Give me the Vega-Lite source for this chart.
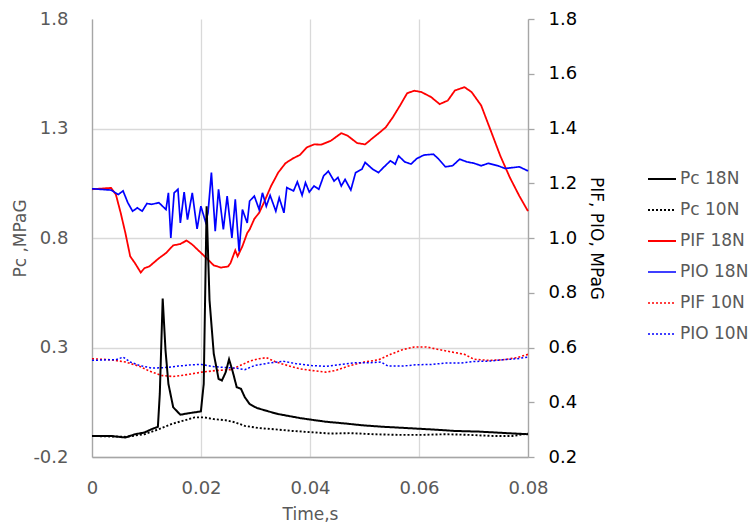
{
  "$schema": "https://vega.github.io/schema/vega-lite/v6.json",
  "width": 436,
  "height": 438,
  "autosize": {"type": "none"},
  "padding": {"left": 92, "top": 19, "right": 223, "bottom": 68},
  "config": {
    "font": "DejaVu Sans",
    "view": {"stroke": null}
  },
  "datasets": {
    "L": [
      {"s":"Pc 18N","t":0,"v":-0.104},{"s":"Pc 18N","t":0.0035,"v":-0.104},{"s":"Pc 18N","t":0.00613,"v":-0.111},{"s":"Pc 18N","t":0.00789,"v":-0.096},{"s":"Pc 18N","t":0.00964,"v":-0.088},{"s":"Pc 18N","t":0.01095,"v":-0.073},{"s":"Pc 18N","t":0.01209,"v":-0.062},{"s":"Pc 18N","t":0.01244,"v":0.088},{"s":"Pc 18N","t":0.01297,"v":0.524},{"s":"Pc 18N","t":0.01349,"v":0.287},{"s":"Pc 18N","t":0.01402,"v":0.134},{"s":"Pc 18N","t":0.0149,"v":0.027},{"s":"Pc 18N","t":0.01621,"v":-0.007},{"s":"Pc 18N","t":0.01752,"v":-0.001},{"s":"Pc 18N","t":0.01884,"v":0.004},{"s":"Pc 18N","t":0.01998,"v":0.008},{"s":"Pc 18N","t":0.0205,"v":0.134},{"s":"Pc 18N","t":0.02103,"v":0.945},{"s":"Pc 18N","t":0.02156,"v":0.517},{"s":"Pc 18N","t":0.02234,"v":0.272},{"s":"Pc 18N","t":0.02322,"v":0.157},{"s":"Pc 18N","t":0.02383,"v":0.149},{"s":"Pc 18N","t":0.02453,"v":0.187},{"s":"Pc 18N","t":0.02515,"v":0.246},{"s":"Pc 18N","t":0.02585,"v":0.187},{"s":"Pc 18N","t":0.02655,"v":0.119},{"s":"Pc 18N","t":0.02734,"v":0.111},{"s":"Pc 18N","t":0.02804,"v":0.073},{"s":"Pc 18N","t":0.02892,"v":0.042},{"s":"Pc 18N","t":0.03023,"v":0.024},{"s":"Pc 18N","t":0.03242,"v":0.008},{"s":"Pc 18N","t":0.03417,"v":-0.004},{"s":"Pc 18N","t":0.03593,"v":-0.012},{"s":"Pc 18N","t":0.03812,"v":-0.022},{"s":"Pc 18N","t":0.04031,"v":-0.03},{"s":"Pc 18N","t":0.04294,"v":-0.039},{"s":"Pc 18N","t":0.04644,"v":-0.047},{"s":"Pc 18N","t":0.04995,"v":-0.056},{"s":"Pc 18N","t":0.05345,"v":-0.062},{"s":"Pc 18N","t":0.05783,"v":-0.068},{"s":"Pc 18N","t":0.06221,"v":-0.074},{"s":"Pc 18N","t":0.06659,"v":-0.081},{"s":"Pc 18N","t":0.07098,"v":-0.084},{"s":"Pc 18N","t":0.07536,"v":-0.09},{"s":"Pc 18N","t":0.08,"v":-0.096},
      {"s":"Pc 10N","t":0,"v":-0.104},{"s":"Pc 10N","t":0.00613,"v":-0.108},{"s":"Pc 10N","t":0.00964,"v":-0.096},{"s":"Pc 10N","t":0.01227,"v":-0.073},{"s":"Pc 10N","t":0.0149,"v":-0.047},{"s":"Pc 10N","t":0.01709,"v":-0.032},{"s":"Pc 10N","t":0.01884,"v":-0.019},{"s":"Pc 10N","t":0.02059,"v":-0.019},{"s":"Pc 10N","t":0.02234,"v":-0.027},{"s":"Pc 10N","t":0.02453,"v":-0.032},{"s":"Pc 10N","t":0.02629,"v":-0.042},{"s":"Pc 10N","t":0.02804,"v":-0.058},{"s":"Pc 10N","t":0.03067,"v":-0.068},{"s":"Pc 10N","t":0.0333,"v":-0.073},{"s":"Pc 10N","t":0.0368,"v":-0.081},{"s":"Pc 10N","t":0.04031,"v":-0.087},{"s":"Pc 10N","t":0.04381,"v":-0.093},{"s":"Pc 10N","t":0.04732,"v":-0.091},{"s":"Pc 10N","t":0.0517,"v":-0.096},{"s":"Pc 10N","t":0.05608,"v":-0.099},{"s":"Pc 10N","t":0.06046,"v":-0.099},{"s":"Pc 10N","t":0.06484,"v":-0.096},{"s":"Pc 10N","t":0.06922,"v":-0.099},{"s":"Pc 10N","t":0.0736,"v":-0.104},{"s":"Pc 10N","t":0.07711,"v":-0.104},{"s":"Pc 10N","t":0.08,"v":-0.093}
    ],
    "R": [
      {"s":"PIF 18N","t":0,"v":1.178},{"s":"PIF 18N","t":0.0035,"v":1.183},{"s":"PIF 18N","t":0.00438,"v":1.159},{"s":"PIF 18N","t":0.00526,"v":1.092},{"s":"PIF 18N","t":0.00613,"v":1.018},{"s":"PIF 18N","t":0.00701,"v":0.933},{"s":"PIF 18N","t":0.00789,"v":0.908},{"s":"PIF 18N","t":0.00894,"v":0.874},{"s":"PIF 18N","t":0.00964,"v":0.89},{"s":"PIF 18N","t":0.01051,"v":0.896},{"s":"PIF 18N","t":0.01227,"v":0.926},{"s":"PIF 18N","t":0.01358,"v":0.945},{"s":"PIF 18N","t":0.0149,"v":0.973},{"s":"PIF 18N","t":0.01621,"v":0.978},{"s":"PIF 18N","t":0.01735,"v":0.991},{"s":"PIF 18N","t":0.0184,"v":0.976},{"s":"PIF 18N","t":0.01972,"v":0.951},{"s":"PIF 18N","t":0.02103,"v":0.926},{"s":"PIF 18N","t":0.02234,"v":0.9},{"s":"PIF 18N","t":0.02366,"v":0.892},{"s":"PIF 18N","t":0.02497,"v":0.896},{"s":"PIF 18N","t":0.02541,"v":0.908},{"s":"PIF 18N","t":0.02629,"v":0.955},{"s":"PIF 18N","t":0.02672,"v":0.933},{"s":"PIF 18N","t":0.0276,"v":0.97},{"s":"PIF 18N","t":0.02848,"v":1.018},{"s":"PIF 18N","t":0.02892,"v":1.031},{"s":"PIF 18N","t":0.02979,"v":1.07},{"s":"PIF 18N","t":0.03067,"v":1.092},{"s":"PIF 18N","t":0.03154,"v":1.129},{"s":"PIF 18N","t":0.03286,"v":1.19},{"s":"PIF 18N","t":0.03417,"v":1.239},{"s":"PIF 18N","t":0.03549,"v":1.273},{"s":"PIF 18N","t":0.0368,"v":1.29},{"s":"PIF 18N","t":0.03812,"v":1.303},{"s":"PIF 18N","t":0.03943,"v":1.331},{"s":"PIF 18N","t":0.04074,"v":1.342},{"s":"PIF 18N","t":0.04206,"v":1.341},{"s":"PIF 18N","t":0.04381,"v":1.355},{"s":"PIF 18N","t":0.04574,"v":1.383},{"s":"PIF 18N","t":0.04688,"v":1.374},{"s":"PIF 18N","t":0.04863,"v":1.347},{"s":"PIF 18N","t":0.05012,"v":1.342},{"s":"PIF 18N","t":0.05126,"v":1.361},{"s":"PIF 18N","t":0.05257,"v":1.382},{"s":"PIF 18N","t":0.05389,"v":1.404},{"s":"PIF 18N","t":0.0552,"v":1.441},{"s":"PIF 18N","t":0.05652,"v":1.484},{"s":"PIF 18N","t":0.05783,"v":1.529},{"s":"PIF 18N","t":0.05915,"v":1.538},{"s":"PIF 18N","t":0.06046,"v":1.533},{"s":"PIF 18N","t":0.06221,"v":1.515},{"s":"PIF 18N","t":0.06379,"v":1.489},{"s":"PIF 18N","t":0.06528,"v":1.502},{"s":"PIF 18N","t":0.06659,"v":1.539},{"s":"PIF 18N","t":0.06835,"v":1.551},{"s":"PIF 18N","t":0.06966,"v":1.533},{"s":"PIF 18N","t":0.07141,"v":1.484},{"s":"PIF 18N","t":0.07317,"v":1.392},{"s":"PIF 18N","t":0.07492,"v":1.3},{"s":"PIF 18N","t":0.07667,"v":1.221},{"s":"PIF 18N","t":0.07842,"v":1.153},{"s":"PIF 18N","t":0.08,"v":1.098},
      {"s":"PIO 18N","t":0,"v":1.18},{"s":"PIO 18N","t":0.0035,"v":1.175},{"s":"PIO 18N","t":0.00482,"v":1.159},{"s":"PIO 18N","t":0.0057,"v":1.172},{"s":"PIO 18N","t":0.00657,"v":1.129},{"s":"PIO 18N","t":0.00745,"v":1.098},{"s":"PIO 18N","t":0.00832,"v":1.11},{"s":"PIO 18N","t":0.0092,"v":1.098},{"s":"PIO 18N","t":0.01008,"v":1.126},{"s":"PIO 18N","t":0.01095,"v":1.123},{"s":"PIO 18N","t":0.01227,"v":1.129},{"s":"PIO 18N","t":0.01358,"v":1.104},{"s":"PIO 18N","t":0.01402,"v":1.165},{"s":"PIO 18N","t":0.01446,"v":1.0},{"s":"PIO 18N","t":0.01507,"v":1.165},{"s":"PIO 18N","t":0.01577,"v":1.178},{"s":"PIO 18N","t":0.01621,"v":1.055},{"s":"PIO 18N","t":0.01691,"v":1.168},{"s":"PIO 18N","t":0.01752,"v":1.067},{"s":"PIO 18N","t":0.0184,"v":1.165},{"s":"PIO 18N","t":0.01928,"v":1.033},{"s":"PIO 18N","t":0.01998,"v":1.116},{"s":"PIO 18N","t":0.02085,"v":1.058},{"s":"PIO 18N","t":0.02129,"v":1.092},{"s":"PIO 18N","t":0.02191,"v":1.239},{"s":"PIO 18N","t":0.02261,"v":1.025},{"s":"PIO 18N","t":0.02322,"v":1.178},{"s":"PIO 18N","t":0.0241,"v":1.031},{"s":"PIO 18N","t":0.0248,"v":1.153},{"s":"PIO 18N","t":0.02567,"v":1.0},{"s":"PIO 18N","t":0.02629,"v":1.141},{"s":"PIO 18N","t":0.02699,"v":0.951},{"s":"PIO 18N","t":0.0276,"v":1.104},{"s":"PIO 18N","t":0.02848,"v":1.055},{"s":"PIO 18N","t":0.02892,"v":1.135},{"s":"PIO 18N","t":0.02979,"v":1.153},{"s":"PIO 18N","t":0.03067,"v":1.104},{"s":"PIO 18N","t":0.03128,"v":1.165},{"s":"PIO 18N","t":0.03198,"v":1.116},{"s":"PIO 18N","t":0.03268,"v":1.156},{"s":"PIO 18N","t":0.03373,"v":1.098},{"s":"PIO 18N","t":0.03435,"v":1.147},{"s":"PIO 18N","t":0.03522,"v":1.092},{"s":"PIO 18N","t":0.03575,"v":1.184},{"s":"PIO 18N","t":0.03698,"v":1.172},{"s":"PIO 18N","t":0.03768,"v":1.205},{"s":"PIO 18N","t":0.03855,"v":1.156},{"s":"PIO 18N","t":0.03917,"v":1.202},{"s":"PIO 18N","t":0.03987,"v":1.168},{"s":"PIO 18N","t":0.04074,"v":1.19},{"s":"PIO 18N","t":0.04162,"v":1.178},{"s":"PIO 18N","t":0.0425,"v":1.227},{"s":"PIO 18N","t":0.04337,"v":1.244},{"s":"PIO 18N","t":0.04442,"v":1.208},{"s":"PIO 18N","t":0.04513,"v":1.221},{"s":"PIO 18N","t":0.04574,"v":1.19},{"s":"PIO 18N","t":0.04644,"v":1.214},{"s":"PIO 18N","t":0.04749,"v":1.175},{"s":"PIO 18N","t":0.04837,"v":1.239},{"s":"PIO 18N","t":0.04951,"v":1.251},{"s":"PIO 18N","t":0.05012,"v":1.276},{"s":"PIO 18N","t":0.05152,"v":1.251},{"s":"PIO 18N","t":0.05257,"v":1.239},{"s":"PIO 18N","t":0.05345,"v":1.257},{"s":"PIO 18N","t":0.05476,"v":1.282},{"s":"PIO 18N","t":0.05564,"v":1.27},{"s":"PIO 18N","t":0.05625,"v":1.3},{"s":"PIO 18N","t":0.05739,"v":1.278},{"s":"PIO 18N","t":0.05853,"v":1.27},{"s":"PIO 18N","t":0.05958,"v":1.29},{"s":"PIO 18N","t":0.0609,"v":1.303},{"s":"PIO 18N","t":0.06265,"v":1.306},{"s":"PIO 18N","t":0.06353,"v":1.29},{"s":"PIO 18N","t":0.06484,"v":1.26},{"s":"PIO 18N","t":0.06616,"v":1.264},{"s":"PIO 18N","t":0.06747,"v":1.288},{"s":"PIO 18N","t":0.06878,"v":1.278},{"s":"PIO 18N","t":0.0701,"v":1.273},{"s":"PIO 18N","t":0.07141,"v":1.264},{"s":"PIO 18N","t":0.07273,"v":1.273},{"s":"PIO 18N","t":0.07448,"v":1.264},{"s":"PIO 18N","t":0.07579,"v":1.254},{"s":"PIO 18N","t":0.07711,"v":1.257},{"s":"PIO 18N","t":0.07842,"v":1.26},{"s":"PIO 18N","t":0.08,"v":1.245},
      {"s":"PIF 10N","t":0,"v":0.559},{"s":"PIF 10N","t":0.0035,"v":0.555},{"s":"PIF 10N","t":0.00613,"v":0.547},{"s":"PIF 10N","t":0.00876,"v":0.531},{"s":"PIF 10N","t":0.01051,"v":0.514},{"s":"PIF 10N","t":0.01271,"v":0.498},{"s":"PIF 10N","t":0.0149,"v":0.494},{"s":"PIF 10N","t":0.01752,"v":0.501},{"s":"PIF 10N","t":0.02015,"v":0.51},{"s":"PIF 10N","t":0.02278,"v":0.516},{"s":"PIF 10N","t":0.02541,"v":0.519},{"s":"PIF 10N","t":0.02716,"v":0.534},{"s":"PIF 10N","t":0.02892,"v":0.55},{"s":"PIF 10N","t":0.03067,"v":0.559},{"s":"PIF 10N","t":0.03198,"v":0.563},{"s":"PIF 10N","t":0.03373,"v":0.547},{"s":"PIF 10N","t":0.03593,"v":0.534},{"s":"PIF 10N","t":0.03812,"v":0.522},{"s":"PIF 10N","t":0.04031,"v":0.516},{"s":"PIF 10N","t":0.04294,"v":0.51},{"s":"PIF 10N","t":0.04469,"v":0.516},{"s":"PIF 10N","t":0.04732,"v":0.534},{"s":"PIF 10N","t":0.04995,"v":0.547},{"s":"PIF 10N","t":0.05257,"v":0.555},{"s":"PIF 10N","t":0.05476,"v":0.575},{"s":"PIF 10N","t":0.05696,"v":0.592},{"s":"PIF 10N","t":0.05915,"v":0.602},{"s":"PIF 10N","t":0.06134,"v":0.602},{"s":"PIF 10N","t":0.06353,"v":0.593},{"s":"PIF 10N","t":0.06616,"v":0.583},{"s":"PIF 10N","t":0.06835,"v":0.575},{"s":"PIF 10N","t":0.0701,"v":0.557},{"s":"PIF 10N","t":0.07273,"v":0.553},{"s":"PIF 10N","t":0.07536,"v":0.555},{"s":"PIF 10N","t":0.07798,"v":0.563},{"s":"PIF 10N","t":0.08,"v":0.575},
      {"s":"PIO 10N","t":0,"v":0.553},{"s":"PIO 10N","t":0.00263,"v":0.555},{"s":"PIO 10N","t":0.00438,"v":0.555},{"s":"PIO 10N","t":0.0057,"v":0.565},{"s":"PIO 10N","t":0.00701,"v":0.547},{"s":"PIO 10N","t":0.00876,"v":0.534},{"s":"PIO 10N","t":0.01095,"v":0.525},{"s":"PIO 10N","t":0.01314,"v":0.526},{"s":"PIO 10N","t":0.01577,"v":0.532},{"s":"PIO 10N","t":0.0184,"v":0.537},{"s":"PIO 10N","t":0.02015,"v":0.538},{"s":"PIO 10N","t":0.02191,"v":0.531},{"s":"PIO 10N","t":0.02366,"v":0.528},{"s":"PIO 10N","t":0.02629,"v":0.525},{"s":"PIO 10N","t":0.02804,"v":0.519},{"s":"PIO 10N","t":0.02979,"v":0.534},{"s":"PIO 10N","t":0.03242,"v":0.543},{"s":"PIO 10N","t":0.03505,"v":0.55},{"s":"PIO 10N","t":0.03768,"v":0.54},{"s":"PIO 10N","t":0.04031,"v":0.534},{"s":"PIO 10N","t":0.04294,"v":0.531},{"s":"PIO 10N","t":0.04556,"v":0.538},{"s":"PIO 10N","t":0.04819,"v":0.544},{"s":"PIO 10N","t":0.05082,"v":0.544},{"s":"PIO 10N","t":0.05301,"v":0.547},{"s":"PIO 10N","t":0.05433,"v":0.532},{"s":"PIO 10N","t":0.05696,"v":0.532},{"s":"PIO 10N","t":0.05958,"v":0.537},{"s":"PIO 10N","t":0.06221,"v":0.538},{"s":"PIO 10N","t":0.06484,"v":0.543},{"s":"PIO 10N","t":0.06747,"v":0.543},{"s":"PIO 10N","t":0.0701,"v":0.549},{"s":"PIO 10N","t":0.07273,"v":0.55},{"s":"PIO 10N","t":0.07536,"v":0.555},{"s":"PIO 10N","t":0.07798,"v":0.559},{"s":"PIO 10N","t":0.08,"v":0.565}
    ]
  },
  "encoding": {
    "x": {
      "field": "t", "type": "quantitative",
      "scale": {"domain": [0, 0.08], "nice": false, "zero": false},
      "axis": {
        "values": [0, 0.02, 0.04, 0.06, 0.08],
        "labelExpr": "datum.value == 0 ? '0' : format(datum.value, '.2f')",
        "labelFlush": false, "labelOverlap": false,
        "ticks": false, "grid": true, "gridColor": "#d9d9d9", "gridWidth": 1.3,
        "domainColor": "#a6a6a6", "domainWidth": 1.3,
        "labelColor": "#595959", "labelFontSize": 18, "labelPadding": 22, "labelFont": "DejaVu Sans",
        "title": "Time,s", "titleColor": "#595959", "titleFontSize": 17, "titleFontWeight": "normal", "titleFont": "DejaVu Sans", "titlePadding": 9
      }
    },
    "color": {
      "field": "s", "type": "nominal",
      "scale": {
        "domain": ["Pc 18N", "Pc 10N", "PIF 18N", "PIO 18N", "PIF 10N", "PIO 10N"],
        "range": ["#000000", "#000000", "#ff0000", "#0000ff", "#ff0000", "#0000ff"]
      },
      "legend": {
        "title": null, "orient": "none", "legendX": 555, "legendY": 150,
        "symbolType": "stroke", "symbolSize": 784, "symbolStrokeWidth": 2,
        "labelFontSize": 17, "labelColor": "#595959", "labelFont": "DejaVu Sans",
        "clipHeight": 20, "rowPadding": 11, "labelOffset": 3
      }
    },
    "strokeDash": {
      "field": "s", "type": "nominal",
      "scale": {
        "domain": ["Pc 18N", "Pc 10N", "PIF 18N", "PIO 18N", "PIF 10N", "PIO 10N"],
        "range": [[1, 0], [2, 2], [1, 0], [1, 0], [2, 2], [2, 2]]
      },
      "legend": {
        "title": null, "orient": "none", "legendX": 555, "legendY": 150,
        "symbolType": "stroke", "symbolSize": 784, "symbolStrokeWidth": 2,
        "labelFontSize": 17, "labelColor": "#595959", "labelFont": "DejaVu Sans",
        "clipHeight": 20, "rowPadding": 11, "labelOffset": 3
      }
    },
    "strokeWidth": {
      "field": "s", "type": "nominal",
      "scale": {
        "domain": ["Pc 18N", "Pc 10N", "PIF 18N", "PIO 18N", "PIF 10N", "PIO 10N"],
        "range": [2, 1.5, 2, 2, 1.5, 1.5]
      },
      "legend": null
    }
  },
  "layer": [
    {
      "data": {"name": "R"},
      "mark": {"type": "line", "interpolate": "linear"},
      "encoding": {
        "y": {
          "field": "v", "type": "quantitative",
          "scale": {"domain": [0.2, 1.8], "nice": false, "zero": false},
          "axis": {
            "orient": "right",
            "values": [0.2, 0.4, 0.6, 0.8, 1.0, 1.2, 1.4, 1.6, 1.8],
            "format": ".1f", "labelOverlap": false, "labelFlush": false,
            "grid": false, "ticks": true, "tickSize": 6, "tickColor": "#a6a6a6", "tickWidth": 1.3,
            "domainColor": "#a6a6a6", "domainWidth": 1.3,
            "labelColor": "#000000", "labelFontSize": 18, "labelPadding": 14, "labelFont": "DejaVu Sans",
            "title": "PIF, PIO, MPaG", "titleColor": "#000000", "titleFontSize": 17, "titleFontWeight": "normal", "titleFont": "DejaVu Sans", "titlePadding": 10
          }
        }
      }
    },
    {
      "data": {"name": "L"},
      "mark": {"type": "line", "interpolate": "linear"},
      "encoding": {
        "y": {
          "field": "v", "type": "quantitative",
          "scale": {"domain": [-0.2, 1.8], "nice": false, "zero": false},
          "axis": {
            "orient": "left",
            "values": [-0.2, 0.3, 0.8, 1.3, 1.8],
            "labelExpr": "replace(format(datum.value, '.1f'), '\u2212', '-')",
            "labelOverlap": false, "labelFlush": false,
            "ticks": false, "grid": true, "gridColor": "#d9d9d9", "gridWidth": 1.3,
            "gridOpacity": {"condition": {"test": "datum.value > 1.7", "value": 0}, "value": 1},
            "domainColor": "#a6a6a6", "domainWidth": 1.3,
            "labelColor": "#595959", "labelFontSize": 18, "labelPadding": 24, "labelFont": "DejaVu Sans",
            "title": "Pc ,MPaG", "titleColor": "#595959", "titleFontSize": 17, "titleFontWeight": "normal", "titleFont": "DejaVu Sans", "titlePadding": 3
          }
        }
      }
    }
  ],
  "resolve": {"scale": {"y": "independent"}}
}
